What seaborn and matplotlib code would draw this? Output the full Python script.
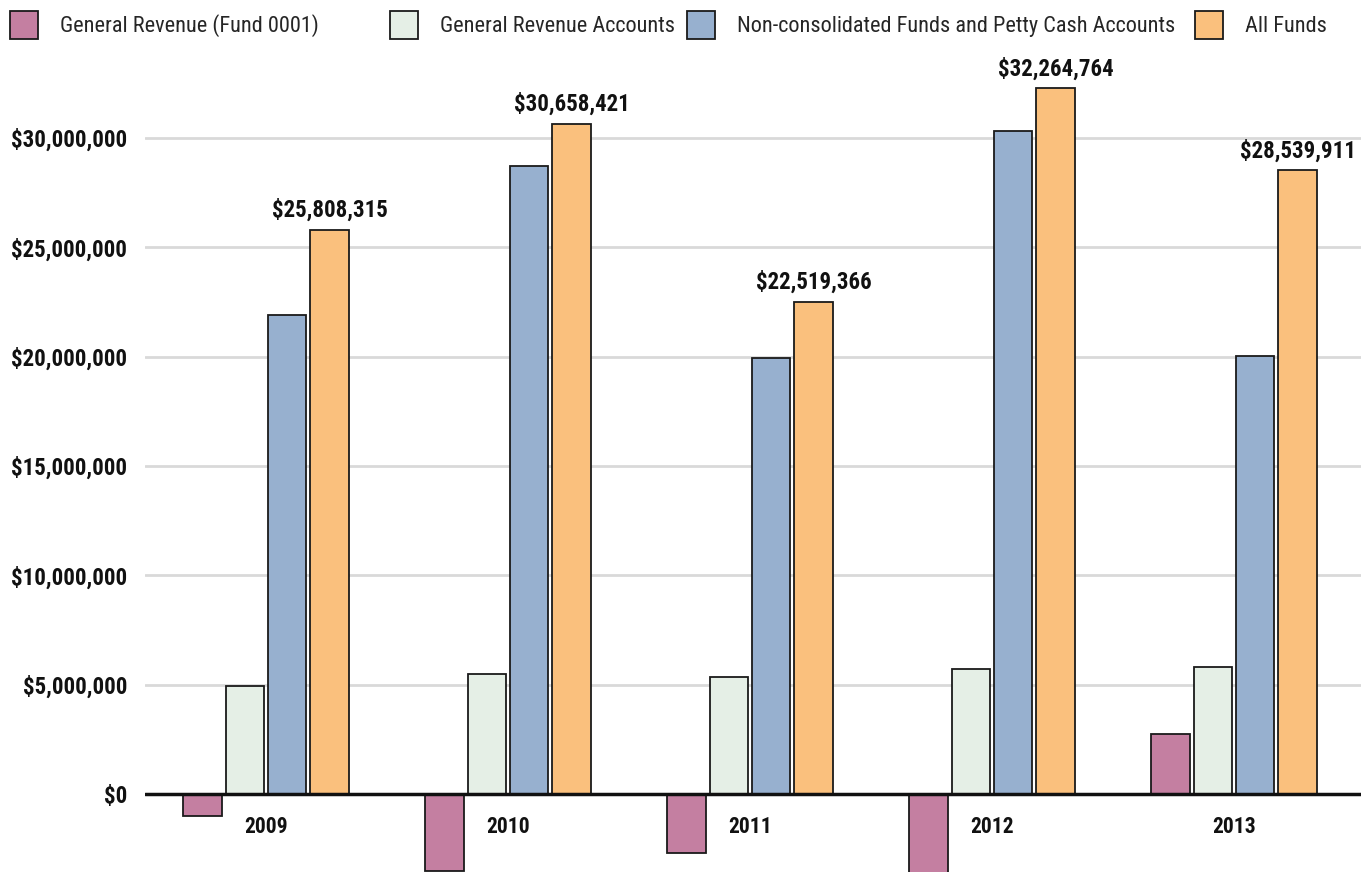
import matplotlib
matplotlib.use("Agg")
import matplotlib.pyplot as plt
import matplotlib.patches as mpatches
from matplotlib import font_manager
import seaborn as sns
import pandas as pd

years = ["2009", "2010", "2011", "2012", "2013"]
series = ["General Revenue (Fund 0001)", "General Revenue Accounts",
          "Non-consolidated Funds and Petty Cash Accounts", "All Funds"]
gr_fund = [-1000000, -3530000, -2700000, -3780000, 2740000]
gr_accounts = [4940000, 5490000, 5350000, 5720000, 5810000]
non_consolidated = [21900000, 28720000, 19940000, 30320000, 20030000]
all_funds = [25808315, 30658421, 22519366, 32264764, 28539911]
colors = ["#C47FA1", "#E5EFE6", "#97B0CF", "#FAC07D"]

rows = []
for s, vals in zip(series, [gr_fund, gr_accounts, non_consolidated, all_funds]):
    for y, v in zip(years, vals):
        rows.append({"year": y, "series": s, "value": v})
df = pd.DataFrame(rows)

sns.set_style("white")
names = {f.name for f in font_manager.fontManager.ttflist}
fam = "Roboto"
for cand in ["Roboto Condensed", "Liberation Sans Narrow", "Open Sans Condensed", "Noto Sans Condensed"]:
    if cand in names:
        fam = cand
        break
plt.rcParams["font.family"] = [fam, "DejaVu Sans"]
cond = fam != "Roboto"
fs_tick = 16.5 if cond else 14
fs_year = 15.5 if cond else 13
fs_leg = 16 if cond else 14

fig = plt.figure(figsize=(13.61, 8.72), dpi=100)
ax = fig.add_axes([145 / 1361, 0, 1216 / 1361, (872 - 70) / 872])

sns.barplot(data=df, x="year", y="value", hue="series", palette=colors,
            saturation=1, edgecolor="#1a1a1a", linewidth=1.3, width=0.70, gap=0.1,
            ax=ax, legend=False)

ax.set_xlim(-0.5, 4.5 + 6 / 242)
ax.set_ylim(-3570000, 33110000)
ax.set_yticks([0, 5e6, 10e6, 15e6, 20e6, 25e6, 30e6])
ax.set_yticklabels([f"${int(v):,}" for v in ax.get_yticks()],
                   fontsize=fs_tick, fontweight="bold", color="#111111")
ax.tick_params(axis="y", length=0, pad=13)
ax.set_xticks([])
ax.set_xlabel("")
ax.set_ylabel("")
for sp in ax.spines.values():
    sp.set_visible(False)
for t in [5e6, 10e6, 15e6, 20e6, 25e6, 30e6]:
    ax.axhline(t, color="#d9d9d9", lw=2, zorder=0)
ax.axhline(0, color="#111111", lw=2.5, zorder=3)

for i, y in enumerate(years):
    ax.text(i, -1500000, y, ha="center", va="center", fontsize=fs_year,
            fontweight="bold", color="#111111")

for i, v in enumerate(all_funds):
    x = i + 0.7 * 0.375
    ax.text(x, v + 350000, f"${v:,}", ha="center", va="bottom",
            fontsize=fs_tick, fontweight="bold", color="#111111")

leg_x = [10, 390, 687, 1195]
for c, s, lx in zip(colors, series, leg_x):
    h = mpatches.Patch(facecolor=c, edgecolor="#1a1a1a", linewidth=1.3)
    fig.legend([h], [s], loc="center left", bbox_to_anchor=(lx / 1361, 1 - 25 / 872),
               frameon=False, fontsize=fs_leg, borderpad=0, borderaxespad=0,
               handlelength=1.26, handleheight=1.56, handletextpad=1.0)

fig.savefig("out.png", dpi=100)
